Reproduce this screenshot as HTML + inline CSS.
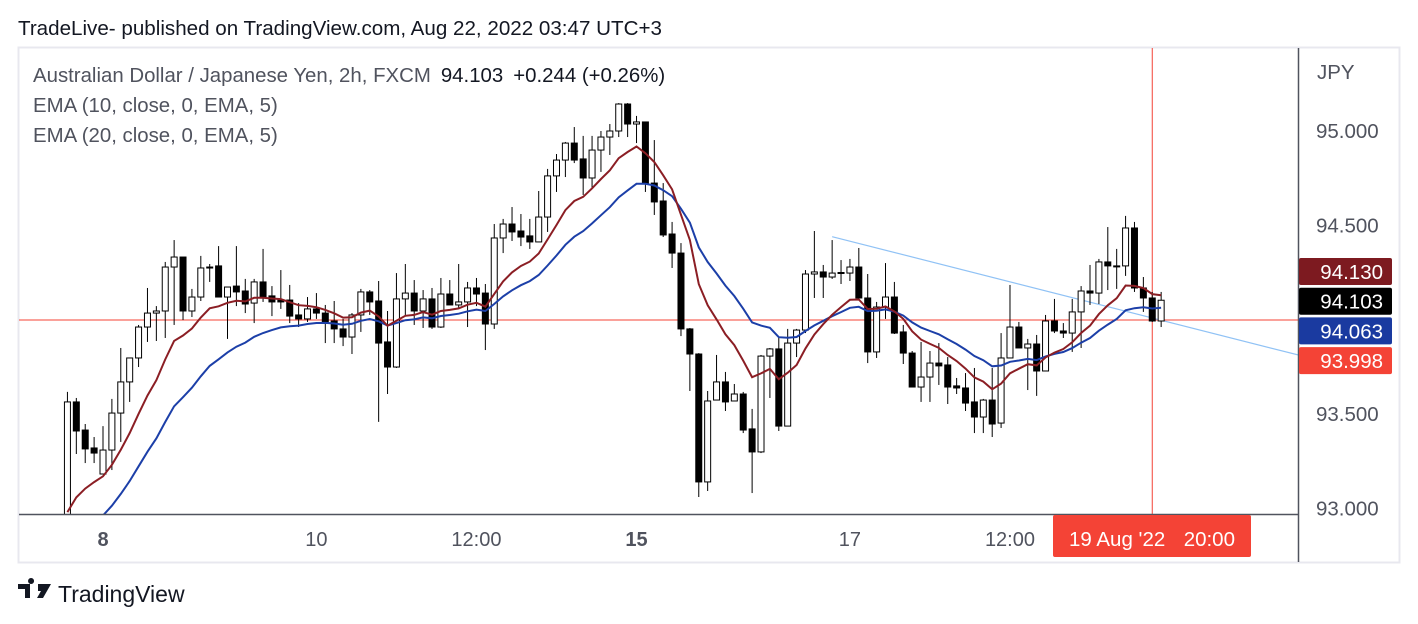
<!DOCTYPE html>
<html><head><meta charset="utf-8"><style>
body{margin:0;background:#fff;width:1418px;height:624px;overflow:hidden;font-family:"Liberation Sans",sans-serif}
svg{display:block}
</style></head><body>
<svg id="c" width="1418" height="624" xmlns="http://www.w3.org/2000/svg">
<text x="18" y="35" font-size="20.6" fill="#131722">TradeLive- published on TradingView.com, Aug 22, 2022 03:47 UTC+3</text>
<rect x="18.5" y="47.5" width="1381" height="515" fill="#fff" stroke="#e8e8ef" stroke-width="2"/>
<g id="plot"></g>
<line x1="19" y1="514.5" x2="1299" y2="514.5" stroke="#50535e" stroke-width="1.5"/>
<line x1="1298.5" y1="48" x2="1298.5" y2="562" stroke="#50535e" stroke-width="1.5"/>
<g id="axes"></g>
<text x="1317" y="79" font-size="20.5" fill="#50535e">JPY</text>
<g font-size="20.4" fill="#50535e">
<text x="33" y="82">Australian Dollar / Japanese Yen, 2h, FXCM<tspan fill="#131722" dx="10">94.103</tspan><tspan fill="#131722" dx="10">+0.244 (+0.26%)</tspan></text>
<text x="33" y="112">EMA (10, close, 0, EMA, 5)</text>
<text x="33" y="142">EMA (20, close, 0, EMA, 5)</text>
</g>
<g>
<path d="M18 584h12v14h-5v-9h-7z M31 584a3 3 0 1 1 0.1 0z M38 584h13l-8 14h-6l4-7h-3z" fill="#131722"/>
<text x="58" y="602" font-size="23" fill="#131722">TradingView</text>
</g>
</svg>
<script>
const opens=[92.938,93.564,93.415,93.320,93.182,93.309,93.505,93.670,93.797,93.961,94.035,94.046,94.279,94.332,94.046,94.120,94.274,94.285,94.120,94.178,94.152,94.088,94.200,94.126,94.104,94.104,94.025,94.004,94.057,94.035,93.993,93.951,93.908,94.025,94.147,94.099,93.882,93.749,94.110,94.141,94.046,94.110,93.961,94.136,94.078,94.094,94.168,94.141,93.977,94.433,94.507,94.470,94.444,94.412,94.544,94.762,94.846,94.936,94.852,94.751,94.899,94.968,95.000,95.143,95.037,95.048,94.724,94.629,94.454,94.353,93.951,93.818,93.140,93.574,93.670,93.569,93.606,93.421,93.299,93.807,93.845,93.436,93.876,93.945,94.242,94.253,94.226,94.247,94.247,94.279,94.115,93.829,94.067,94.120,93.935,93.823,93.643,93.696,93.770,93.760,93.649,93.638,93.564,93.484,93.574,93.452,93.797,93.961,93.850,93.871,93.728,93.993,93.940,93.929,94.041,94.152,94.141,94.306,94.285,94.285,94.486,94.168,94.115,93.993];
const highs=[93.617,93.585,93.447,93.378,93.436,93.580,93.850,93.797,93.972,94.168,94.072,94.306,94.422,94.332,94.163,94.338,94.295,94.390,94.173,94.390,94.216,94.216,94.375,94.178,94.263,94.184,94.088,94.120,94.141,94.078,94.099,94.004,94.035,94.163,94.157,94.205,94.046,94.247,94.295,94.210,94.157,94.168,94.221,94.210,94.295,94.200,94.221,94.189,94.507,94.534,94.597,94.560,94.534,94.682,94.799,94.878,94.942,95.021,94.974,94.974,95.000,95.037,95.148,95.148,95.080,95.048,94.952,94.724,94.518,94.406,93.956,93.823,93.622,93.813,93.723,93.659,93.617,93.527,93.813,93.850,93.903,93.951,93.951,94.263,94.470,94.290,94.422,94.316,94.322,94.380,94.242,94.094,94.300,94.200,93.972,93.834,93.882,93.834,93.876,93.802,93.691,93.717,93.744,93.580,93.744,93.929,94.184,93.988,93.898,93.919,94.025,94.110,93.982,94.110,94.178,94.290,94.322,94.491,94.375,94.550,94.518,94.226,94.147,94.147];
const lows=[92.900,93.288,93.240,93.240,93.182,93.203,93.352,93.564,93.749,93.882,93.887,93.903,93.972,93.998,94.014,94.099,94.200,94.120,93.898,94.072,94.035,93.982,94.094,94.019,94.057,93.982,93.961,93.988,94.004,93.876,93.876,93.860,93.818,93.935,94.025,93.458,93.606,93.744,94.025,93.972,93.956,93.951,93.956,94.078,94.062,93.961,94.072,93.839,93.951,94.353,94.417,94.390,94.375,94.412,94.465,94.677,94.756,94.830,94.661,94.698,94.783,94.873,94.968,94.968,94.936,94.677,94.555,94.438,94.274,93.913,93.622,93.060,93.092,93.574,93.516,93.569,93.399,93.081,93.293,93.585,93.410,93.436,93.802,93.929,94.115,94.115,94.216,94.189,94.205,94.110,93.770,93.797,94.004,93.924,93.765,93.643,93.564,93.564,93.654,93.553,93.606,93.516,93.399,93.399,93.378,93.426,93.797,93.850,93.627,93.596,93.728,93.929,93.903,93.829,93.850,94.078,94.083,94.157,94.163,94.232,94.147,94.041,93.988,93.961];
const closes=[93.564,93.410,93.315,93.293,93.309,93.505,93.670,93.797,93.961,94.035,94.046,94.279,94.332,94.046,94.120,94.274,94.279,94.120,94.173,94.147,94.083,94.200,94.120,94.094,94.094,94.019,94.004,94.057,94.035,93.988,93.951,93.908,94.025,94.147,94.094,93.876,93.749,94.110,94.141,94.046,94.110,93.961,94.136,94.078,94.094,94.168,94.136,93.977,94.433,94.507,94.465,94.438,94.412,94.544,94.762,94.846,94.936,94.846,94.751,94.899,94.968,95.000,95.143,95.037,95.048,94.724,94.624,94.449,94.353,93.951,93.818,93.140,93.569,93.670,93.564,93.606,93.415,93.299,93.807,93.845,93.436,93.876,93.945,94.242,94.253,94.226,94.247,94.250,94.279,94.115,93.829,94.067,94.120,93.929,93.823,93.643,93.696,93.770,93.755,93.643,93.638,93.558,93.484,93.574,93.447,93.797,93.961,93.850,93.871,93.728,93.993,93.940,93.929,94.041,94.152,94.141,94.306,94.285,94.283,94.486,94.168,94.115,93.993,94.103];
const priceTicks=[95.0,94.5,93.5,93.0];
const timeLabels=["8","10","12:00","15","17","12:00"];
const timeLabelIdx=[0,24,42,60,84,102];
const boldLabels=[true,false,false,true,false,false];
const firstIdx=-4;
const emaSeed10=92.85, emaSeed20=92.70;
const lastPrice=94.103, crossPrice=93.998, crossIdx=118;
const trendStart=[82,94.44], trendEnd=[134.4,93.813];

const NS="http://www.w3.org/2000/svg";
const xOf=i=>103+i*8.892;
const yOf=p=>131+(95-p)*188.67;
function mk(tag,attrs,parent){const e=document.createElementNS(NS,tag);for(const k in attrs)e.setAttribute(k,attrs[k]);parent.appendChild(e);return e;}
const plot=document.getElementById('plot');
const axes=document.getElementById('axes');
const clip=mk('clipPath',{id:'pc'},plot);
mk('rect',{x:19,y:48,width:1279,height:466},clip);
const g=mk('g',{'clip-path':'url(#pc)'},plot);

const ch=mk('line',{x1:19,x2:1298,y1:yOf(crossPrice),y2:yOf(crossPrice),stroke:'#f44336','stroke-width':1},g);


const cv=mk('line',{x1:xOf(crossIdx),x2:xOf(crossIdx),y1:48,y2:514,stroke:'#f44336','stroke-width':1},g);



const tl=mk('line',{x1:xOf(trendStart[0]),y1:yOf(trendStart[1]),x2:xOf(trendEnd[0]),y2:yOf(trendEnd[1]),stroke:'#90c2f5','stroke-width':1.2},g);



closes.forEach((c,k)=>{
  const i=k+firstIdx,x=xOf(i),o=opens[k],h=highs[k],l=lows[k];
  const cg=mk('g',{},g);
  
  
  mk('line',{x1:x,x2:x,y1:yOf(h),y2:yOf(l),stroke:'#000','stroke-width':1},cg);
  const top=yOf(Math.max(o,c)),bot=yOf(Math.min(o,c));
  const up=c>=o;
  mk('rect',{x:x-3,y:top,width:6,height:Math.max(bot-top,1),fill:up?'#fff':'#000',stroke:'#000','stroke-width':1},cg);
});

function ema(n,seed){const a=2/(n+1);let v=seed;return closes.map(c=>v=v+a*(c-v));}
const e10=ema(10,emaSeed10),e20=ema(20,emaSeed20);
[[e20,'#1c3fa8','ema20-line'],[e10,'#8b1e24','ema10-line']].forEach(([arr,col,nm])=>{
  const p=mk('polyline',{points:arr.map((v,k)=>xOf(k+firstIdx).toFixed(1)+','+yOf(v).toFixed(1)).join(' '),fill:'none',stroke:col,'stroke-width':2},g);
  
  
});

priceTicks.forEach(p=>{
  const t=mk('text',{x:1316,y:yOf(p)+7,'font-size':20.5,fill:'#50535e'},axes);
  t.textContent=p.toFixed(3);
  
  
});
timeLabels.forEach((s,j)=>{
  const t=mk('text',{x:xOf(timeLabelIdx[j]),y:546,'font-size':20,fill:'#50535e','font-weight':boldLabels[j]?'bold':'normal','text-anchor':'middle'},axes);
  t.textContent=s;
  
  
});
// badges stacked (TradingView label layout)
const badges=[[e10[e10.length-1],'#7d1a20','ema10-badge'],[lastPrice,'#000','last-price-badge'],[e20[e20.length-1],'#1a3aa0','ema20-badge'],[crossPrice,'#f44336','crosshair-price-badge']];
badges.sort((a,b)=>b[0]-a[0]);
const slotTop=258, slotStep=29.7;
badges.forEach(([v,col,nm],j)=>{
  const y=slotTop+j*slotStep;
  const bg=mk('g',{},axes);
  
  
  mk('rect',{x:1299,y:y,width:93,height:27,fill:col,rx:2},bg);
  const t=mk('text',{x:1383,y:y+21,'font-size':20.5,fill:'#fff','text-anchor':'end'},bg);
  t.textContent=v.toFixed(3);
});
const tb=mk('g',{},axes);


mk('rect',{x:1053,y:515,width:198,height:42,fill:'#f44336',rx:2},tb);
const t1=mk('text',{x:1069,y:546,'font-size':20.5,fill:'#fff'},tb);
t1.textContent="19 Aug '22";
const t2=mk('text',{x:1235,y:546,'font-size':20.5,fill:'#fff','text-anchor':'end'},tb);
t2.textContent="20:00";
</script>
</body></html>
